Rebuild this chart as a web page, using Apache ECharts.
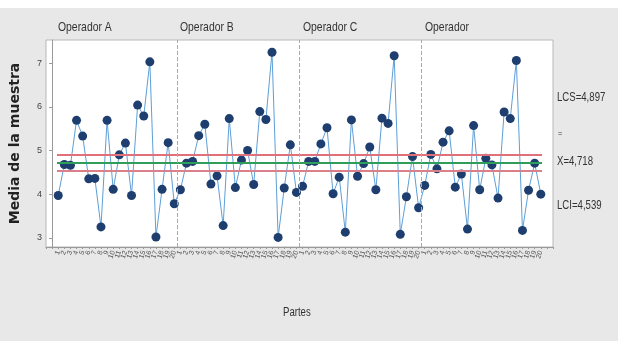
<!DOCTYPE html>
<html>
<head>
<meta charset="utf-8">
<script src="https://cdn.jsdelivr.net/npm/echarts@6/dist/echarts.min.js"></script>
<style>
  html, body { margin: 0; padding: 0; background: #e8e8e8; }
  #chart { width: 618px; height: 341px; }
</style>
</head>
<body>
<div id="chart"></div>
<script>
// Medias por parte (20 partes por operador)
var operadores = ['Operador A', 'Operador B', 'Operador C', 'Operador'];
var opA = [3.97, 4.68, 4.66, 5.69, 5.33, 4.35, 4.36, 3.25, 5.69, 4.11, 4.90, 5.17, 3.97, 6.04, 5.79, 7.03, 3.02, 4.11, 5.18, 3.78];
var opB = [4.10, 4.71, 4.75, 5.34, 5.60, 4.23, 4.42, 3.28, 5.73, 4.15, 4.78, 5.00, 4.22, 5.89, 5.71, 7.25, 3.01, 4.14, 5.13, 4.04];
var opC = [4.18, 4.75, 4.75, 5.15, 5.52, 4.01, 4.39, 3.13, 5.70, 4.41, 4.70, 5.08, 4.10, 5.74, 5.62, 7.17, 3.08, 3.94, 4.86, 3.69];
var opD = [4.20, 4.91, 4.58, 5.19, 5.45, 4.16, 4.46, 3.20, 5.57, 4.10, 4.82, 4.67, 3.91, 5.88, 5.73, 7.06, 3.17, 4.09, 4.71, 4.00];
var yTicks = [3, 4, 5, 6, 7];
var LCS = 4.897, media = 4.718, LCI = 4.539;
var nPartes = 20;

var puntos = [];
[opA, opB, opC, opD].forEach(function (arr, k) {
	for (var i = 0; i < arr.length; i++) {
		puntos.push([k * nPartes + i + 1, arr[i]]);
	}
});

var myChart = echarts.init(document.getElementById('chart'));

function hLine(v, color, w) {
	return [
		{ coord: [0.8, v], lineStyle: { color: color, width: w, type: 'solid' } },
		{ coord: [80.2, v] }
	];
}

// texto estrecho (estilo Minitab)
function txt(s, x, y, size) {
	return {
		type: 'text', x: x, y: y, scaleX: 0.8,
		style: { text: s, fill: '#333', font: (size || 12) + 'px Liberation Sans', textVerticalAlign: 'middle' }
	};
}

var option = {
	backgroundColor: '#e8e8e8',
	animation: false,
	grid: {
		left: 41, right: 65, top: 40, bottom: 94,
		show: true, backgroundColor: '#fff', borderColor: '#b8b8b8', borderWidth: 1
	},
	graphic: [
		{ type: 'rect', x: 0, y: 0, shape: { width: 618, height: 8 }, style: { fill: '#fff' } },
		txt(operadores[0], 58, 27, 13),
		txt(operadores[1], 180, 27, 13),
		txt(operadores[2], 303, 27, 13),
		txt(operadores[3], 425, 27, 13),
		txt('LCS=4,897', 557, 98),
		txt('=', 558, 134, 9),
		txt('X=4,718', 557, 162),
		txt('LCI=4,539', 557, 206),
		txt('Partes', 283, 313)
	],
	xAxis: {
		type: 'value',
		min: -1, max: 82, interval: 1,
		axisLine: { lineStyle: { color: '#999' } },
		axisTick: { show: true, length: 2, lineStyle: { color: '#999' } },
		splitLine: { show: false },
		axisLabel: {
			interval: 0, rotate: 70, fontSize: 7, color: '#555', margin: 4,
			formatter: function (v) {
				if (v < 1 || v > 80) return '';
				return String((v - 1) % nPartes + 1);
			}
		}
	},
	yAxis: {
		type: 'value',
		min: 2.79, max: 7.53,
		name: 'Media de la muestra', nameLocation: 'middle', nameGap: 24,
		nameTextStyle: { color: '#222', fontSize: 14, fontWeight: 'bold', fontFamily: 'DejaVu Sans' },
		axisLine: { show: true, lineStyle: { color: '#999' } },
		axisTick: { show: true, length: 3, customValues: yTicks, lineStyle: { color: '#999' } },
		axisLabel: { fontSize: 9, color: '#444', margin: 4, customValues: yTicks },
		splitLine: { show: false }
	},
	series: [{
		type: 'line',
		data: puntos,
		symbol: 'circle',
		symbolSize: 9,
		lineStyle: { color: '#5d9fd8', width: 1 },
		itemStyle: { color: '#1d3e6e' },
		markLine: {
			silent: true,
			symbol: 'none',
			label: { show: false },
			data: [
				hLine(LCS, '#e0707a', 2),
				hLine(media, '#2f9e5a', 2),
				hLine(LCI, '#d9808a', 2),
				{ xAxis: 20.5, lineStyle: { color: '#aaa', type: 'dashed', width: 1 } },
				{ xAxis: 40.5, lineStyle: { color: '#aaa', type: 'dashed', width: 1 } },
				{ xAxis: 60.5, lineStyle: { color: '#aaa', type: 'dashed', width: 1 } }
			]
		}
	}]
};
myChart.setOption(option);
</script>
</body>
</html>
